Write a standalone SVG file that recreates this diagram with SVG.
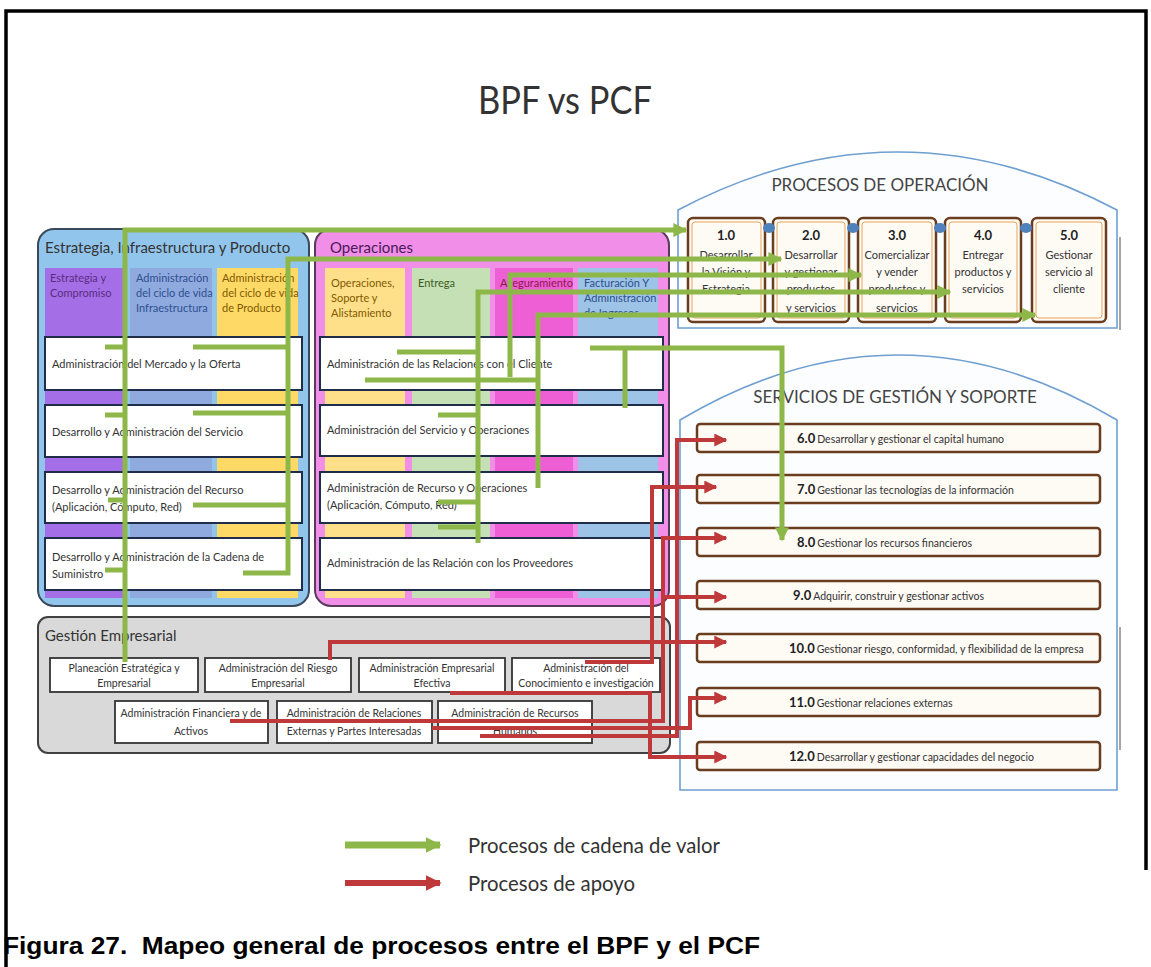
<svg xmlns="http://www.w3.org/2000/svg" width="1151" height="967" viewBox="0 0 1151 967">
<style>
.t{font-family:Lato,"Open Sans","Liberation Sans",sans-serif;fill:#333}
.ptitle{font-size:15px}
.hd{font-size:11px}
.row{font-size:11px;fill:#333}
.rowbox{fill:#fff;stroke:#1f2d4a;stroke-width:2}
.gbox{fill:#fff;stroke:#333;stroke-width:1.8}
.gt{font-size:10.5px;text-anchor:middle;fill:#333}
.pcf{fill:#fefaf4;stroke:#6b3d1f;stroke-width:2.5}
.pcfin{fill:none;stroke:#e8a35a;stroke-width:1}
.pn{font-size:13px;font-weight:bold;text-anchor:middle;fill:#222}
.pt{font-size:11px;text-anchor:middle;fill:#333}
.sbox{fill:#fefaf4;stroke:#6b3d1f;stroke-width:2.5}
.sn{font-size:13px;font-weight:bold;fill:#222}
.st{font-size:10.5px;font-weight:normal;fill:#333}
.house{fill:#fcfdff;stroke:#6f9fd0;stroke-width:1.6}
.g{fill:none;stroke:#8db849;stroke-width:5;stroke-linejoin:miter}
.r{fill:none;stroke:#c0393a;stroke-width:4;stroke-linejoin:miter}
</style>
<defs>
<marker id="ag" viewBox="0 0 10 10" refX="9" refY="5" markerUnits="userSpaceOnUse" markerWidth="14" markerHeight="14" orient="auto"><path d="M0,0 L10,5 L0,10 z" fill="#8db849"/></marker>
<marker id="ar" viewBox="0 0 10 10" refX="9" refY="5" markerUnits="userSpaceOnUse" markerWidth="13" markerHeight="13" orient="auto"><path d="M0,0 L10,5 L0,10 z" fill="#c0393a"/></marker>
<marker id="agL" viewBox="0 0 10 10" refX="9" refY="5" markerUnits="userSpaceOnUse" markerWidth="16" markerHeight="16" orient="auto"><path d="M0,0 L10,5 L0,10 z" fill="#8db849"/></marker>
<marker id="arL" viewBox="0 0 10 10" refX="9" refY="5" markerUnits="userSpaceOnUse" markerWidth="16" markerHeight="16" orient="auto"><path d="M0,0 L10,5 L0,10 z" fill="#c0393a"/></marker>
</defs>

<rect width="1151" height="967" fill="#fff"/>
<path d="M6,967 V11 H1146 V870" fill="none" stroke="#000" stroke-width="3.5"/>

<text class="t" x="478" y="114" font-size="38" textLength="174" lengthAdjust="spacingAndGlyphs" fill="#333">BPF vs PCF</text>

<!-- Left panel -->
<g id="estrategia">
<rect x="38" y="229" width="271" height="377" rx="16" fill="#92c5ec" stroke="#3a4a5a" stroke-width="2"/>
<text class="t ptitle" x="45" y="253">Estrategia, Infraestructura y Producto</text>
<rect x="45" y="268" width="80" height="330" fill="#a46fe6"/>
<rect x="130" y="268" width="82" height="330" fill="#8eaadf"/>
<rect x="217" y="268" width="81" height="330" fill="#ffd966"/>
<text class="t hd" style="fill:#5a2d82"><tspan x="50" y="282">Estrategia y</tspan><tspan x="50" y="297">Compromiso</tspan></text>
<text class="t hd" style="fill:#2f4f8f"><tspan x="136" y="282">Administración</tspan><tspan x="136" y="297">del ciclo de vida</tspan><tspan x="136" y="312">Infraestructura</tspan></text>
<text class="t hd" style="fill:#7f5a00"><tspan x="222" y="282">Administración</tspan><tspan x="222" y="297">del ciclo de vida</tspan><tspan x="222" y="312">de Producto</tspan></text>
<rect class="rowbox" x="45" y="337" width="257" height="53"/>
<text class="t row" x="52" y="368">Administración del Mercado y la Oferta</text>
<rect class="rowbox" x="45" y="405" width="257" height="52"/>
<text class="t row" x="52" y="436">Desarrollo y Administración del Servicio</text>
<rect class="rowbox" x="45" y="472" width="257" height="51"/>
<text class="t row"><tspan x="52" y="494">Desarrollo y Administración  del Recurso</tspan><tspan x="52" y="511">(Aplicación, Cómputo, Red)</tspan></text>
<rect class="rowbox" x="45" y="538" width="257" height="52"/>
<text class="t row"><tspan x="52" y="561">Desarrollo y Administración de  la Cadena de</tspan><tspan x="52" y="578">Suministro</tspan></text>
</g>

<!-- Operaciones panel -->
<g id="operaciones">
<rect x="315" y="229" width="354" height="377" rx="16" fill="#f08ee8" stroke="#5a3a5a" stroke-width="2"/>
<text class="t ptitle" x="330" y="253" style="fill:#4a1a5a">Operaciones</text>
<rect x="325" y="268" width="80" height="330" fill="#ffe08a"/>
<rect x="412" y="268" width="78" height="330" fill="#c5e0b4"/>
<rect x="495" y="268" width="78" height="330" fill="#ee5fd6"/>
<rect x="578" y="268" width="80" height="330" fill="#9dc3e6"/>
<text class="t hd" style="fill:#7f5a00"><tspan x="331" y="287">Operaciones,</tspan><tspan x="331" y="302">Soporte y</tspan><tspan x="331" y="317">Alistamiento</tspan></text>
<text class="t hd" x="418" y="287" style="fill:#3b5e1e">Entrega</text>
<text class="t hd" x="500" y="287" style="fill:#8a1a4a">Aseguramiento</text>
<text class="t hd" style="fill:#2f4f8f"><tspan x="584" y="287">Facturación Y</tspan><tspan x="584" y="302">Administración</tspan><tspan x="584" y="317">de Ingresos</tspan></text>
<rect class="rowbox" x="320" y="337" width="343" height="53"/>
<text class="t row" x="327" y="368">Administración de las Relaciones con el Cliente</text>
<rect class="rowbox" x="320" y="405" width="343" height="51"/>
<text class="t row" x="327" y="434">Administración del Servicio y Operaciones</text>
<rect class="rowbox" x="320" y="472" width="343" height="51"/>
<text class="t row"><tspan x="327" y="492">Administración de Recurso y Operaciones</tspan><tspan x="327" y="509">(Aplicación, Cómputo, Red)</tspan></text>
<rect class="rowbox" x="320" y="538" width="343" height="52"/>
<text class="t row" x="327" y="567">Administración de las Relación con los Proveedores</text>
</g>

<!-- Gestión Empresarial -->
<g id="gestion">
<rect x="38" y="617" width="632" height="136" rx="10" fill="#d9d9d9" stroke="#404040" stroke-width="2"/>
<text class="t ptitle" x="45" y="641">Gestión Empresarial</text>
<rect class="gbox" x="50" y="658" width="148" height="34"/>
<text class="t gt"><tspan x="124" y="672">Planeación Estratégica y</tspan><tspan x="124" y="687">Empresarial</tspan></text>
<rect class="gbox" x="205" y="658" width="146" height="34"/>
<text class="t gt"><tspan x="278" y="672">Administración del Riesgo</tspan><tspan x="278" y="687">Empresarial</tspan></text>
<rect class="gbox" x="359" y="658" width="146" height="34"/>
<text class="t gt"><tspan x="432" y="672">Administración Empresarial</tspan><tspan x="432" y="687">Efectiva</tspan></text>
<rect class="gbox" x="512" y="658" width="148" height="34"/>
<text class="t gt"><tspan x="586" y="672">Administración del</tspan><tspan x="586" y="687">Conocimiento e investigación</tspan></text>
<rect class="gbox" x="115" y="701" width="153" height="42"/>
<text class="t gt"><tspan x="191" y="717">Administración Financiera y de</tspan><tspan x="191" y="735">Activos</tspan></text>
<rect class="gbox" x="277" y="701" width="155" height="42"/>
<text class="t gt"><tspan x="354" y="717">Administración de Relaciones</tspan><tspan x="354" y="735">Externas y Partes Interesadas</tspan></text>
<rect class="gbox" x="438" y="701" width="154" height="42"/>
<text class="t gt"><tspan x="515" y="717">Administración de Recursos</tspan><tspan x="515" y="735">Humanos</tspan></text>
</g>

<!-- PCF operation processes -->
<g id="procesos-operacion">
<path class="house" d="M678,328 V210 Q898,94 1117,210 V328 Z"/>
<path d="M1120,237 V330" stroke="#888" stroke-width="1.5" fill="none"/>
<text class="t" x="880" y="191" text-anchor="middle" font-size="17" style="fill:#444">PROCESOS DE OPERACIÓN</text>
</g>
<g id="p1"><rect class="pcf" x="688" y="218" width="77" height="104" rx="5"/><rect class="pcfin" x="692" y="222" width="69" height="96" rx="3"/>
<text class="t pn" x="726" y="240">1.0</text><text class="t pt"><tspan x="726" y="259">Desarrollar</tspan><tspan x="726" y="276">la Visión y</tspan><tspan x="726" y="293">Estrategia</tspan></text></g>
<g id="p2"><rect class="pcf" x="773" y="218" width="76" height="104" rx="5"/><rect class="pcfin" x="777" y="222" width="68" height="96" rx="3"/>
<text class="t pn" x="811" y="240">2.0</text><text class="t pt"><tspan x="811" y="259">Desarrollar</tspan><tspan x="811" y="276">y gestionar</tspan><tspan x="811" y="293">productos</tspan><tspan x="811" y="312">y servicios</tspan></text></g>
<g id="p3"><rect class="pcf" x="858" y="218" width="78" height="104" rx="5"/><rect class="pcfin" x="862" y="222" width="70" height="96" rx="3"/>
<text class="t pn" x="897" y="240">3.0</text><text class="t pt"><tspan x="897" y="259">Comercializar</tspan><tspan x="897" y="276">y vender</tspan><tspan x="897" y="293">productos y</tspan><tspan x="897" y="312">servicios</tspan></text></g>
<g id="p4"><rect class="pcf" x="945" y="218" width="76" height="104" rx="5"/><rect class="pcfin" x="949" y="222" width="68" height="96" rx="3"/>
<text class="t pn" x="983" y="240">4.0</text><text class="t pt"><tspan x="983" y="259">Entregar</tspan><tspan x="983" y="276">productos y</tspan><tspan x="983" y="293">servicios</tspan></text></g>
<g id="p5"><rect class="pcf" x="1032" y="218" width="74" height="104" rx="5"/><rect class="pcfin" x="1036" y="222" width="66" height="96" rx="3"/>
<text class="t pn" x="1069" y="240">5.0</text><text class="t pt"><tspan x="1069" y="259">Gestionar</tspan><tspan x="1069" y="276">servicio al</tspan><tspan x="1069" y="293">cliente</tspan></text></g>
<g id="enlaces" fill="#4f81bd">
<ellipse cx="769" cy="228" rx="6" ry="5"/><ellipse cx="853" cy="228" rx="6" ry="5"/><ellipse cx="940" cy="228" rx="6" ry="5"/><ellipse cx="1026" cy="228" rx="6" ry="5"/>
</g>

<!-- PCF management services -->
<g id="servicios">
<path class="house" d="M680,790 V420 Q898,290 1117,420 V790 Z"/>
<path d="M1120,627 V750" stroke="#888" stroke-width="1.5" fill="none"/>
<text class="t" x="895" y="403" text-anchor="middle" font-size="17" style="fill:#444">SERVICIOS DE GESTIÓN Y SOPORTE</text>
</g>
<g id="s6"><rect class="sbox" x="697" y="424" width="403" height="28" rx="3"/><text class="t sn" x="797" y="443">6.0<tspan class="st" dx="2">Desarrollar y gestionar el capital humano</tspan></text></g>
<g id="s7"><rect class="sbox" x="697" y="475" width="403" height="28" rx="3"/><text class="t sn" x="797" y="494">7.0<tspan class="st" dx="2">Gestionar las tecnologías de la información</tspan></text></g>
<g id="s8"><rect class="sbox" x="697" y="528" width="403" height="28" rx="3"/><text class="t sn" x="797" y="547">8.0<tspan class="st" dx="2">Gestionar los recursos financieros</tspan></text></g>
<g id="s9"><rect class="sbox" x="697" y="581" width="403" height="28" rx="3"/><text class="t sn" x="793" y="600">9.0<tspan class="st" dx="2">Adquirir, construir y gestionar activos</tspan></text></g>
<g id="s10"><rect class="sbox" x="697" y="634" width="403" height="28" rx="3"/><text class="t sn" x="789" y="653">10.0<tspan class="st" dx="2">Gestionar riesgo, conformidad, y flexibilidad de la empresa</tspan></text></g>
<g id="s11"><rect class="sbox" x="697" y="688" width="403" height="28" rx="3"/><text class="t sn" x="789" y="707">11.0<tspan class="st" dx="2">Gestionar relaciones externas</tspan></text></g>
<g id="s12"><rect class="sbox" x="697" y="742" width="403" height="28" rx="3"/><text class="t sn" x="789" y="761">12.0<tspan class="st" dx="2">Desarrollar y gestionar capacidades del negocio</tspan></text></g>

<!-- Connectors -->
<g id="connectors">
<path class="g" d="M125,662 V230 H686" marker-end="url(#ag)"/>
<path class="g" d="M105,347 H125 M105,415 H125 M108,500 H125 M105,570 H125"/>
<path class="g" d="M243,573 H288 V259 H781" marker-end="url(#ag)"/>
<path class="g" d="M193,347 H288 M193,413 H288 M193,505 H288"/>
<path class="g" d="M510,377 V275 H861" marker-end="url(#ag)"/>
<path class="g" d="M478,543 V292 H950" marker-end="url(#ag)"/>
<path class="g" d="M397,352 H478 M438,415 H478 M438,502 H478 M438,527 H478"/>
<path class="g" d="M538,488 V315 H1035" marker-end="url(#ag)"/>
<path class="g" d="M365,380 H538"/>
<path class="g" d="M590,348 H782 V540" marker-end="url(#ag)"/>
<path class="g" d="M625,348 V408"/>

<path class="r" d="M480,736 H677 V440 H726" marker-end="url(#ar)"/>
<path class="r" d="M585,662 H652 V487 H716" marker-end="url(#ar)"/>
<path class="r" d="M230,721 H663 V538 H726" marker-end="url(#ar)"/>
<path class="r" d="M663,597 H726" marker-end="url(#ar)"/>
<path class="r" d="M330,660 V642 H726" marker-end="url(#ar)"/>
<path class="r" d="M432,728 H690 V698 H726" marker-end="url(#ar)"/>
<path class="r" d="M450,693 H650 V757 H726" marker-end="url(#ar)"/>
</g>

<!-- Legend -->
<g id="legend">
<path d="M345,845 H440" stroke="#8db849" stroke-width="7" fill="none" marker-end="url(#agL)"/>
<path d="M345,883 H440" stroke="#c0393a" stroke-width="6" fill="none" marker-end="url(#arL)"/>
<text class="t" x="468" y="853" font-size="21" textLength="252" lengthAdjust="spacingAndGlyphs" style="fill:#333">Procesos de cadena de valor</text>
<text class="t" x="468" y="891" font-size="21" textLength="167" lengthAdjust="spacingAndGlyphs" style="fill:#333">Procesos de apoyo</text>
</g>

<text x="3" y="954" font-family="'Liberation Sans',Arial,sans-serif" font-weight="bold" font-size="23" textLength="757" lengthAdjust="spacingAndGlyphs" fill="#000" xml:space="preserve">Figura 27.  Mapeo general de procesos entre el BPF y el PCF</text>
</svg>
